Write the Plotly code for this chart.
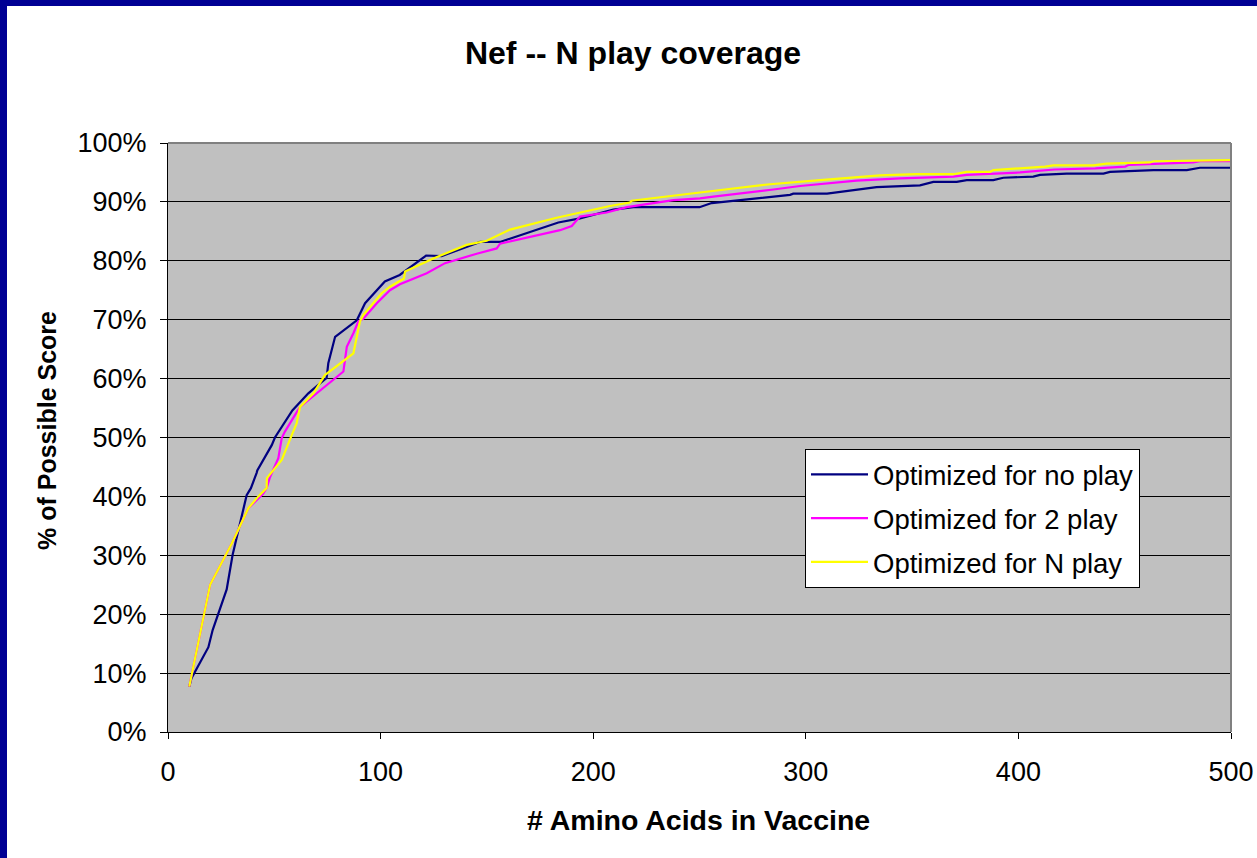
import plotly.graph_objects as go

# ---- data ----
x_noplay = [10, 11, 19, 21, 27.6, 30.4, 37, 39, 41.7, 42, 48.8, 50.3, 58.5, 66, 71.5, 74.6, 75.4, 78.6,
            88.8, 92.7, 102, 109, 121.4, 128.7, 146.8, 156.2, 183.6, 193.8, 209.5, 218.9, 250, 255.7,
            292.6, 294.1, 310, 333.3, 353.7, 360, 371, 375.7, 388.2, 392.9, 407, 410.2, 422.7, 440,
            443.1, 463.5, 479.2, 485.4, 500]
y_noplay = [7.7, 9.1, 14.4, 17.3, 24.2, 30.1, 40.2, 41.4, 44.0, 44.4, 48.7, 50.0, 54.6, 57.5, 59.2, 60.1,
            62.6, 67.1, 69.9, 72.8, 76.5, 77.6, 80.9, 80.8, 83.2, 83.2, 86.5, 87.2, 88.7, 89.1, 89.1,
            89.8, 91.2, 91.4, 91.4, 92.5, 92.8, 93.4, 93.4, 93.7, 93.7, 94.1, 94.3, 94.6, 94.8, 94.8,
            95.1, 95.4, 95.4, 95.8, 95.8]

x_2play = [10, 19.8, 30, 37.8, 44.8, 46.4, 48, 51.9, 53.5, 55, 59.7, 62.1, 82.5, 84.1, 87.2, 89.5, 91.9,
           98.2, 104.4, 109.1, 121.7, 130.3, 145.2, 154.6, 156.2, 184.4, 189.9, 193.8, 206.3, 215.8,
           237.7, 250.2, 256.5, 272.2, 284.8, 297.3, 314.5, 323.9, 344.3, 369.4, 375.7, 400.8, 417,
           436.2, 450.3, 451.9, 482.3, 485.4, 500]
y_2play = [7.7, 25.0, 32.0, 38.0, 40.5, 41.4, 43.3, 46.5, 49.9, 51.0, 53.8, 55.2, 61.2, 65.4, 67.7, 69.7,
           70.2, 72.8, 75.0, 76.0, 77.9, 79.6, 81.2, 82.1, 82.9, 85.2, 85.9, 87.5, 88.2, 89.1, 90.3,
           90.6, 90.9, 91.5, 92.1, 92.7, 93.2, 93.6, 94.0, 94.3, 94.6, 95.0, 95.5, 95.7, 96.0, 96.3,
           96.7, 96.9, 96.9]

x_nplay = [10, 19.8, 30, 37.8, 42.5, 46.4, 46.5, 53.5, 58.2, 60.5, 62.1, 68.4, 73.8, 87.2, 90.3, 91.9,
           100.5, 104.4, 111, 111.5, 124.8, 140.5, 149.9, 160.9, 182.8, 189.9, 207.9, 217.3, 218.1,
           250.2, 260.4, 283.2, 306.7, 316.1, 334.9, 352.2, 369.4, 375.7, 386.6, 388.2, 400.8, 412.6,
           416.4, 435.2, 441.5, 461.9, 463.5, 490.1, 500]
y_nplay = [7.7, 25.0, 32.0, 38.0, 40.0, 41.4, 43.1, 46.2, 50.4, 52.4, 55.2, 57.5, 60.6, 64.3, 69.7, 70.8,
           74.5, 75.6, 77.0, 78.2, 80.4, 82.7, 83.4, 85.3, 87.3, 87.9, 89.3, 89.9, 90.2, 91.6, 92.0,
           93.0, 93.7, 94.0, 94.5, 94.7, 94.7, 95.1, 95.1, 95.4, 95.7, 96.0, 96.2, 96.2, 96.5, 96.7,
           96.9, 97.1, 97.1]

series_names = ["Optimized for no play", "Optimized for 2 play", "Optimized for N play"]
series_colors = ["#000080", "#FF00FF", "#FFFF00"]
x_ticks = [0, 100, 200, 300, 400, 500]
y_ticks = [i / 10 for i in range(11)]

FONT = "Liberation Sans, Arial, sans-serif"
W, H = 1257, 858
L, R, T, B = 168, 26, 143, 126
PW, PH = W - L - R, H - T - B

fig = go.Figure()
for i, (xs, ys) in enumerate([(x_noplay, y_noplay), (x_2play, y_2play), (x_nplay, y_nplay)]):
    fig.add_trace(go.Scatter(
        x=xs, y=[v / 100 for v in ys], mode="lines", name=series_names[i],
        legendgroup=f"g{i}",
        line=dict(color=series_colors[i], width=2.2),
    ))

def px_x(p):
    return (p - L) / PW

def px_y(p):
    return (H - B - p) / PH

shapes = [
    # navy frame (left and top)
    dict(type="rect", xref="paper", yref="paper", x0=px_x(0), x1=px_x(7), y0=px_y(H), y1=px_y(0),
         fillcolor="#000094", line=dict(width=0), layer="above"),
    dict(type="rect", xref="paper", yref="paper", x0=px_x(0), x1=px_x(W), y0=px_y(6), y1=px_y(0),
         fillcolor="#000094", line=dict(width=0), layer="above"),
    # gray plot border top/right
    dict(type="line", xref="paper", yref="paper", x0=0, x1=1, y0=1, y1=1,
         line=dict(color="#808080", width=2), layer="above"),
    dict(type="line", xref="paper", yref="paper", x0=1, x1=1, y0=0, y1=1,
         line=dict(color="#808080", width=2), layer="above"),
]

annotations = [
    dict(text="<b>% of Possible Score</b>", xref="paper", yref="paper", x=px_x(47), y=px_y(431),
         textangle=-90, showarrow=False, font=dict(family=FONT, size=25, color="black"),
         xanchor="center", yanchor="middle"),
    dict(text="<b># Amino Acids in Vaccine</b>", xref="paper", yref="paper", x=px_x(698), y=px_y(820),
         showarrow=False, font=dict(family=FONT, size=28.5, color="black"),
         xanchor="center", yanchor="middle"),
]

fig.update_layout(
    width=W, height=H, autosize=False,
    margin=dict(l=L, r=R, t=T, b=B, pad=0, autoexpand=False),
    paper_bgcolor="white",
    plot_bgcolor="#C0C0C0",
    font=dict(family=FONT, size=27, color="black"),
    title=dict(text="<b>Nef -- N play coverage</b>", x=633 / W, xref="container", xanchor="center",
               y=1 - 53 / H, yref="container", yanchor="middle",
               font=dict(family=FONT, size=32, color="black")),
    xaxis=dict(range=[0, 500], tickvals=x_ticks, ticks="outside", ticklen=6, tickcolor="black",
               showline=True, linecolor="black", linewidth=1, showgrid=False, zeroline=False,
               ticklabelstandoff=10, tickfont=dict(size=27), automargin=False),
    yaxis=dict(range=[0, 1], tickvals=y_ticks, tickformat=".0%", ticks="outside", ticklen=7,
               tickcolor="black", showline=True, linecolor="black", linewidth=1, showgrid=True,
               gridcolor="black", gridwidth=1, zeroline=False, ticklabelstandoff=8,
               tickfont=dict(size=27), automargin=False),
    legend=dict(x=px_x(805), y=px_y(449), xanchor="left", yanchor="top", bgcolor="white",
                bordercolor="black", borderwidth=1, font=dict(family=FONT, size=27.5),
                tracegroupgap=5, traceorder="grouped", itemwidth=57),
    shapes=shapes,
    annotations=annotations,
    showlegend=True,
)

fig.write_html("out.html")
